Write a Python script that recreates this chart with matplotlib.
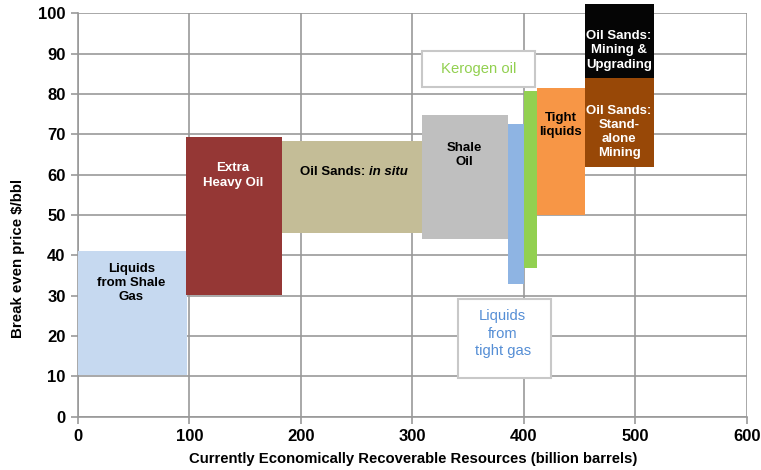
import matplotlib.pyplot as plt

plt.rcParams['font.family'] = ['Liberation Sans', 'DejaVu Sans']

# resource blocks: x extent (billion barrels) and price range ($/bbl)
names = ['Liquids from Shale Gas', 'Extra Heavy Oil', 'Oil Sands: in situ', 'Shale Oil',
         'Liquids from tight gas', 'Kerogen oil', 'Tight liquids',
         'Oil Sands: Stand-alone Mining', 'Oil Sands: Mining & Upgrading']
x_left = [0, 97, 183, 308.5, 386, 400, 412, 455, 455]
x_right = [98, 183, 309, 386, 400, 412, 455, 517, 517]
y_low = [10.3, 30.2, 45.6, 44.1, 32.9, 36.9, 49.9, 62.0, 84.0]
y_high = [41.1, 69.4, 68.3, 74.8, 72.6, 80.8, 81.5, 84.0, 102.3]
colors = ['#C6D9F0', '#953735', '#C4BD97', '#BFBFBF', '#8EB4E3', '#92D050',
          '#F79646', '#984807', '#050505']

x_ticks = [0, 100, 200, 300, 400, 500, 600]
y_ticks = [0, 10, 20, 30, 40, 50, 60, 70, 80, 90, 100]

fig = plt.figure(figsize=(7.61, 4.70), dpi=100)
ax = fig.add_axes([0.1025, 0.1134, 0.8787, 0.8583])

widths = [r - l for l, r in zip(x_left, x_right)]
heights = [h - l for l, h in zip(y_low, y_high)]
bars = ax.bar(x_left, heights, width=widths, bottom=y_low, align='edge',
              color=colors, linewidth=0, zorder=3)
for b in bars:
    b.set_clip_on(False)

ax.set_xlim(0, 600)
ax.set_ylim(0, 100)
ax.set_xticks(x_ticks)
ax.set_yticks(y_ticks)
ax.grid(True, color='#999999', linewidth=1.2, zorder=0)
ax.set_axisbelow(True)
for s in ['top', 'right']:
    ax.spines[s].set_visible(False)
for s in ['left', 'bottom']:
    ax.spines[s].set_color('#999999')
    ax.spines[s].set_linewidth(1.2)
ax.tick_params(axis='both', length=5, color='#999999', width=1.2,
               labelsize=12, pad=4)
for lab in ax.get_xticklabels() + ax.get_yticklabels():
    lab.set_fontweight('bold')

ax.set_xlabel('Currently Economically Recoverable Resources (billion barrels)',
              fontsize=10.7, fontweight='bold')
ax.set_ylabel('Break even price $/bbl', fontsize=10.8, fontweight='bold')
ax.xaxis.set_label_coords(0.501, -0.088)
ax.yaxis.set_label_coords(-0.079, 0.393)

kw = dict(ha='center', va='center', fontsize=9.5, fontweight='bold',
          linespacing=1.25, zorder=5)
ax.text(47.8, 33.2, 'Liquids\nfrom Shale\nGas', color='black', **kw)
ax.text(139, 59.8, 'Extra\nHeavy Oil', color='white', **kw)
ax.text(346.7, 64.9, 'Shale\nOil', color='black', **kw)
ax.text(433, 72.3, 'Tight\nliquids', color='black', **kw)
ax.text(485.5, 70.6, 'Oil Sands:\nStand-\nalone\nMining', color='white', **kw)
ax.text(485.5, 90.8, 'Oil Sands:\nMining &\nUpgrading', color='white', clip_on=False, **kw)

t1 = ax.text(199.5, 60.7, 'Oil Sands: ', ha='left', va='center', fontsize=9.5,
             fontweight='bold', zorder=5)
ax.annotate('in situ', xy=(1, 0), xycoords=t1, ha='left', va='bottom',
            fontsize=9.5, fontweight='bold', style='italic', zorder=5)

ax.add_patch(plt.Rectangle((308.4, 81.65), 101.9, 9.0, facecolor='white',
                           edgecolor='#C8C8C8', linewidth=1.5, zorder=4))
ax.text(359.3, 86.3, 'Kerogen oil', ha='center', va='center', fontsize=10.7,
        color='#92D050', zorder=5)
ax.add_patch(plt.Rectangle((341.3, 9.5), 83.2, 19.75, facecolor='white',
                           edgecolor='#C8C8C8', linewidth=1.5, zorder=4))
ax.text(381, 20.6, 'Liquids\nfrom\ntight gas', ha='center', va='center', fontsize=10.6,
        color='#558ED5', linespacing=1.3, zorder=5)

fig.savefig('out.png', dpi=100)
